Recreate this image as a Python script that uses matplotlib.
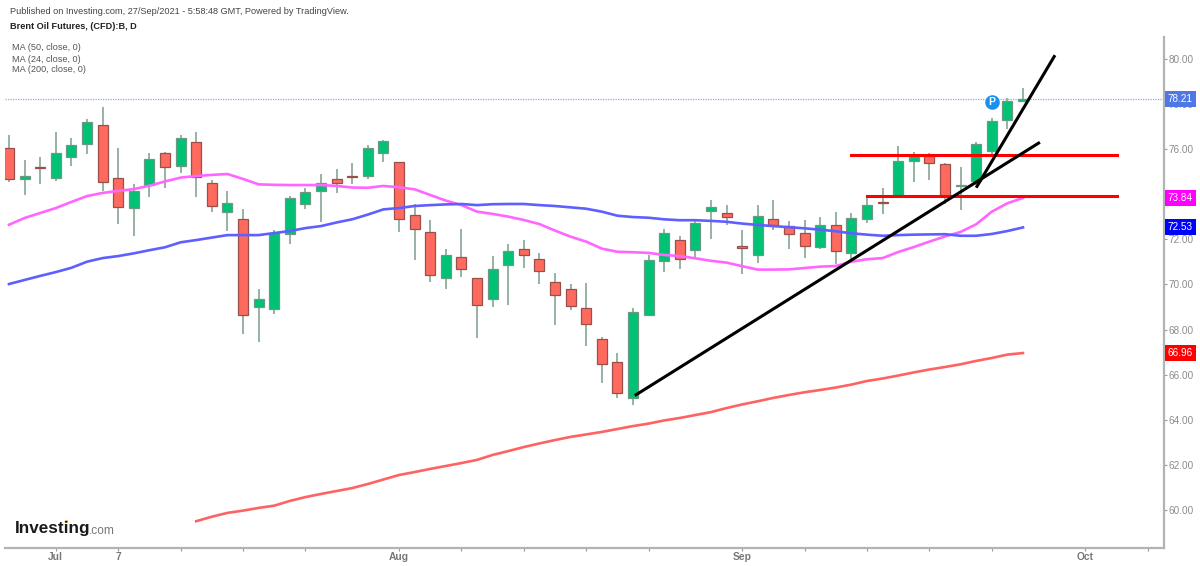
import numpy as np
import matplotlib
matplotlib.use("Agg")
import matplotlib.pyplot as plt

plt.rcParams['font.family'] = ['Liberation Sans', 'DejaVu Sans']

#%%
# daily candles, Jun 28 to Sep 27
opens = [76.04, 74.68, 75.21, 74.72, 75.67, 76.24, 77.09, 74.72, 73.39, 74.40, 75.82,
         75.27, 76.32, 74.51, 73.20, 72.89, 69.00, 68.93, 72.25, 73.57, 74.15, 74.69,
         74.81, 74.80, 75.84, 75.42, 73.09, 72.34, 70.30, 71.21, 70.27, 69.37, 70.85,
         71.57, 71.14, 70.10, 69.80, 68.97, 67.60, 66.58, 64.98, 68.66, 71.03, 71.97,
         71.54, 73.27, 73.17, 71.72, 71.32, 72.89, 72.58, 72.30, 71.65, 72.62, 71.40,
         72.92, 73.67, 73.92, 75.48, 75.74, 75.34, 74.37, 74.59, 75.92, 77.31, 78.13]
highs = [76.63, 75.52, 75.64, 76.76, 76.48, 77.33, 77.88, 76.04, 74.44, 75.82, 75.86,
         76.62, 76.76, 74.63, 74.13, 73.36, 69.79, 72.42, 73.94, 74.27, 74.89, 75.11,
         75.37, 76.19, 76.41, 75.44, 73.57, 72.86, 71.56, 72.46, 70.30, 71.26, 71.78,
         71.96, 71.41, 70.50, 70.03, 70.05, 67.68, 66.95, 68.94, 71.31, 72.46, 72.16,
         72.83, 73.73, 73.54, 72.42, 73.51, 73.73, 72.82, 72.86, 72.99, 73.21, 73.18,
         73.94, 74.29, 76.14, 75.89, 75.82, 75.40, 75.20, 76.31, 77.37, 78.28, 78.70]
lows = [74.56, 73.96, 74.44, 74.60, 75.25, 75.77, 74.13, 72.67, 72.15, 73.87, 74.29,
        74.96, 73.87, 73.23, 72.39, 67.79, 67.46, 68.68, 71.78, 73.36, 72.78, 74.04,
        74.46, 74.68, 75.43, 72.34, 71.09, 70.12, 69.79, 70.32, 67.64, 68.99, 69.09,
        70.72, 70.03, 68.20, 68.87, 67.28, 65.62, 64.95, 64.64, 68.60, 70.54, 70.69,
        71.19, 72.03, 72.64, 70.48, 70.97, 72.43, 71.56, 71.16, 71.59, 70.91, 71.01,
        72.73, 73.11, 73.85, 74.53, 74.63, 73.56, 73.30, 74.41, 75.74, 76.90, 78.15]
closes = [74.68, 74.81, 75.15, 75.84, 76.17, 77.19, 74.54, 73.45, 74.15, 75.56, 75.20,
          76.51, 74.78, 73.48, 73.61, 68.63, 69.36, 72.27, 73.82, 74.10, 74.51, 74.50,
          74.75, 76.07, 76.36, 72.90, 72.45, 70.41, 71.32, 70.70, 69.08, 70.67, 71.47,
          71.31, 70.60, 69.55, 69.03, 68.23, 66.46, 65.20, 68.79, 71.07, 72.27, 71.12,
          72.73, 73.42, 73.01, 71.60, 73.05, 72.62, 72.23, 71.72, 72.62, 71.47, 72.95,
          73.52, 73.61, 75.49, 75.70, 75.37, 73.92, 74.42, 76.23, 77.26, 78.14, 78.21]

ma24 = [72.65, 72.95, 73.17, 73.39, 73.66, 73.92, 74.06, 74.15, 74.23, 74.38, 74.57,
        74.74, 74.81, 74.86, 74.90, 74.68, 74.44, 74.42, 74.41, 74.41, 74.41, 74.37,
        74.30, 74.29, 74.37, 74.31, 74.22, 73.97, 73.72, 73.52, 73.23, 73.13, 73.01,
        72.86, 72.68, 72.39, 72.12, 71.90, 71.59, 71.45, 71.43, 71.40, 71.31, 71.26,
        71.16, 71.05, 70.97, 70.81, 70.66, 70.66, 70.67, 70.73, 70.79, 70.82, 71.01,
        71.12, 71.17, 71.44, 71.66, 71.90, 72.13, 72.33, 72.67, 73.23, 73.60, 73.84]
ma50 = [70.02, 70.20, 70.38, 70.55, 70.74, 71.01, 71.17, 71.26, 71.38, 71.52, 71.65,
        71.87, 71.97, 72.08, 72.19, 72.19, 72.19, 72.28, 72.37, 72.50, 72.59, 72.75,
        72.89, 73.10, 73.33, 73.39, 73.48, 73.52, 73.55, 73.57, 73.52, 73.56, 73.57,
        73.57, 73.52, 73.48, 73.42, 73.36, 73.23, 73.05, 72.99, 72.96, 72.89, 72.85,
        72.85, 72.82, 72.78, 72.70, 72.64, 72.59, 72.54, 72.49, 72.43, 72.36, 72.27,
        72.21, 72.16, 72.19, 72.21, 72.22, 72.23, 72.16, 72.16, 72.24, 72.37, 72.53]
# the 200 line only starts at candle 12
ma200 = [59.50, 59.70, 59.87, 59.97, 60.09, 60.19, 60.40, 60.57, 60.71, 60.84, 60.97,
         61.15, 61.35, 61.55, 61.68, 61.82, 61.95, 62.08, 62.22, 62.44, 62.61, 62.79,
         62.95, 63.10, 63.24, 63.35, 63.46, 63.59, 63.72, 63.83, 63.97, 64.08, 64.21,
         64.34, 64.52, 64.68, 64.82, 64.97, 65.10, 65.22, 65.32, 65.43, 65.56, 65.72,
         65.83, 65.96, 66.10, 66.23, 66.34, 66.46, 66.61, 66.74, 66.89, 66.96]

price_ticks = [60, 62, 64, 66, 68, 70, 72, 74, 76, 78, 80]
date_ticks = [3, 7, 11, 15, 19, 25, 29, 33, 37, 41, 47, 51, 55, 59, 63, 69, 73]
date_labels = ['Jul', '7', '', '', '', 'Aug', '', '', '', '', 'Sep', '', '', '', '', 'Oct', '']
last_prices = [78.21, 73.84, 72.53, 66.96]
last_colors = ['#4f78e6', '#ff00ff', '#0000ff', '#ff0000']

# hand drawn lines in candle index and price
trend_lines = [(40.2, 65.11, 66.0, 76.27), (62.05, 74.35, 67.0, 80.11)]
level_lines = [(54.0, 71.0, 75.76), (55.0, 71.0, 73.92)]

#%%
W, H = 1200, 566
fig = plt.figure(figsize=(W / 100, H / 100), dpi=100)
left, right, top, bottom = 5, 1164, 37, 547.5
ax = fig.add_axes([left / W, 1 - bottom / H, (right - left) / W, (bottom - top) / H])
ax.set_xlim((left - 9) / 15.6, (right - 9) / 15.6)
ax.set_ylim(80 - (bottom - 59) * 0.04435, 80 + (59 - top) * 0.04435)

idx = np.arange(len(opens))
o, h, l, c = map(np.array, (opens, highs, lows, closes))
up = c >= o

ax.vlines(idx, l, h, color='#8fab9c', lw=1.3, zorder=2)
ax.bar(idx[up], np.maximum(c[up] - o[up], 0.05), bottom=o[up], width=0.64,
       color='#00c274', edgecolor='#6a9a84', lw=0.9, zorder=3)
ax.bar(idx[~up], np.maximum(o[~up] - c[~up], 0.05), bottom=c[~up], width=0.64,
       color='#ff6a5e', edgecolor='#9a4f4a', lw=0.9, zorder=3)

ax.plot(idx, ma24, color='#ff66ff', lw=1.9, zorder=4)
ax.plot(idx, ma50, color='#5f5fff', lw=1.9, zorder=4)
ax.plot(idx[12:], ma200, color='#ff6262', lw=1.9, zorder=4)

ax.axhline(last_prices[0], color='#8aa6ff', lw=0.9, ls=(0, (1, 1)), zorder=1)

for x0, y0, x1, y1 in trend_lines:
    ax.plot([x0, x1], [y0, y1], color='black', lw=2.2, zorder=6)
for x0, x1, y in level_lines:
    ax.plot([x0, x1], [y, y], color='#ff0000', lw=2.2, zorder=5)

# published marker
ax.scatter([63.0], [78.09], s=110, color='#1a90f0', zorder=7, lw=0)
ax.text(63.0, 78.08, 'P', color='white', fontsize=7.5, fontweight='bold',
        ha='center', va='center', zorder=8)

# axes
for s in ('top', 'left'):
    ax.spines[s].set_visible(False)
for s in ('right', 'bottom'):
    ax.spines[s].set_color('#b3b3b3')
    ax.spines[s].set_linewidth(1.6)
ax.yaxis.tick_right()
ax.set_yticks(price_ticks)
ax.set_yticklabels(['%.2f' % p for p in price_ticks])
ax.set_xticks(date_ticks)
ax.set_xticklabels(date_labels)
ax.tick_params(axis='y', length=2.2, width=0.8, color='#999999', labelcolor='#8c8c8c', labelsize=7.2, pad=0.8)
ax.tick_params(axis='x', length=2.2, width=0.8, color='#999999', labelcolor='#777777', labelsize=7.4, pad=1)
for t in ax.get_xticklabels():
    t.set_fontweight('bold')

# last value boxes on the price scale
for p, col in zip(last_prices, last_colors):
    ax.annotate('%.2f' % p, xy=(1, p), xycoords=('axes fraction', 'data'),
                xytext=(2.6, 0), textcoords='offset points', color='white', fontsize=7.2,
                ha='left', va='center', zorder=10, annotation_clip=False,
                bbox=dict(boxstyle='square,pad=0.3', fc=col, ec=col, lw=0))

# header and legend
fig.text(10 / W, 1 - 11.5 / H, 'Published on Investing.com, 27/Sep/2021 - 5:58:48 GMT, Powered by TradingView.',
         fontsize=6.6, color='#444444', va='center')
fig.text(10 / W, 1 - 26.5 / H, 'Brent Oil Futures, (CFD):B, D', fontsize=6.6, color='#222222',
         fontweight='bold', va='center')
for y, s in zip((48, 59, 70), ('MA (50, close, 0)', 'MA (24, close, 0)', 'MA (200, close, 0)')):
    fig.text(12 / W, 1 - y / H, s, fontsize=6.6, color='#555555', va='center')

# logo
fig.text(15 / W, 1 - 528 / H, 'Investing', fontsize=12.3, fontweight='bold', color='#1a1a1a', va='center')
fig.text(89 / W, 1 - 530.5 / H, '.com', fontsize=8.6, color='#777777', va='center')
ax.scatter([3.65], [59.51], s=5, color='#f5a623', zorder=7, lw=0)

fig.savefig('out.png', dpi=100, facecolor='white')
